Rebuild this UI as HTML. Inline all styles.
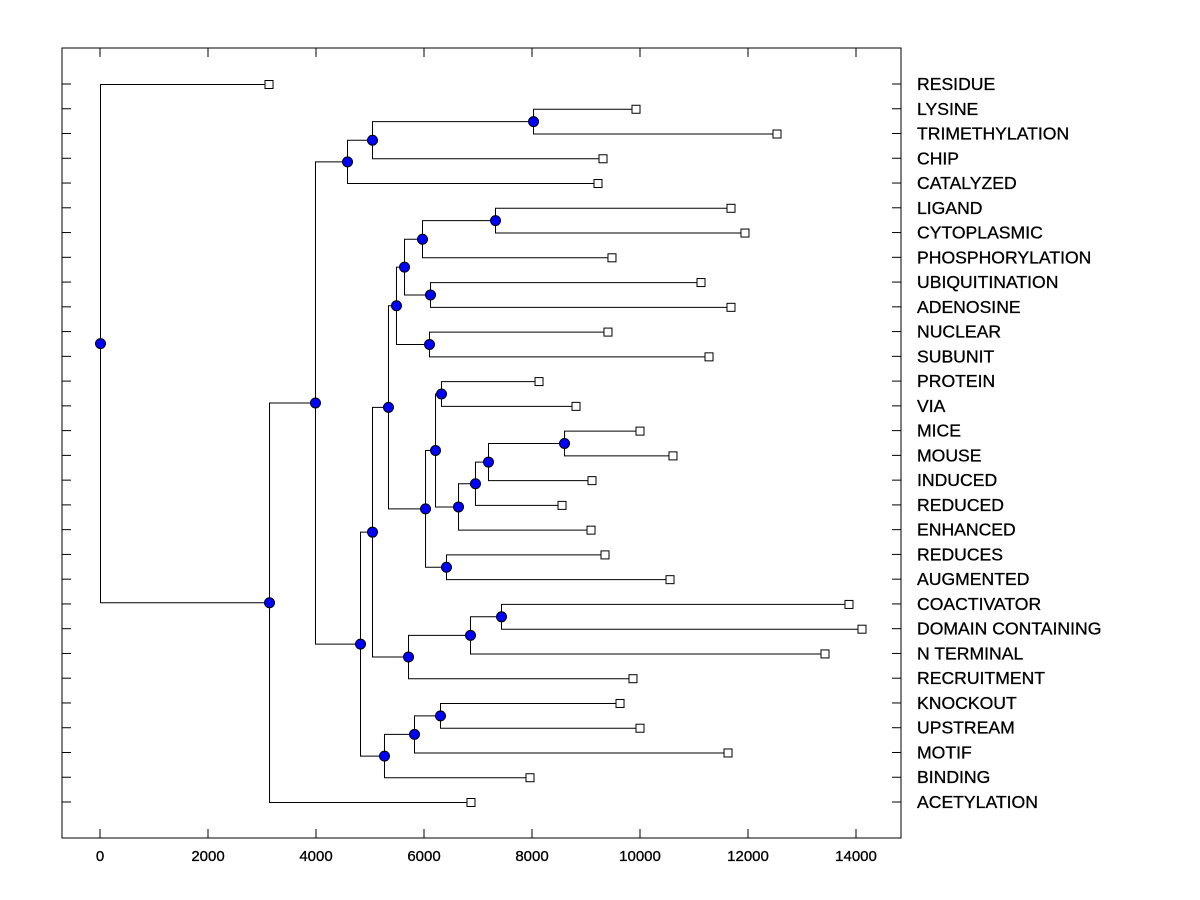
<!DOCTYPE html>
<html><head><meta charset="utf-8"><style>
html,body{margin:0;padding:0;background:#fff;}
svg{display:block;font-family:"Liberation Sans",Arial,sans-serif;}
</style></head><body>
<svg id="chart" width="1200" height="900">
<rect x="62" y="48" width="839" height="790" fill="none" stroke="#000" stroke-width="1"/>
<g id="axis"></g><g id="links"></g><g id="nodes"></g><g id="labels"></g>
</svg>
<script>
const leafLabels = ["RESIDUE","LYSINE","TRIMETHYLATION","CHIP","CATALYZED","LIGAND","CYTOPLASMIC","PHOSPHORYLATION","UBIQUITINATION","ADENOSINE","NUCLEAR","SUBUNIT","PROTEIN","VIA","MICE","MOUSE","INDUCED","REDUCED","ENHANCED","REDUCES","AUGMENTED","COACTIVATOR","DOMAIN CONTAINING","N TERMINAL","RECRUITMENT","KNOCKOUT","UPSTREAM","MOTIF","BINDING","ACETYLATION"];
const leafValues = [3130,9926,12537,9315,9222,11685,11944,9481,11130,11685,9407,11278,8130,8815,10000,10611,9111,8556,9093,9352,10556,13870,14111,13426,9870,9630,10000,11630,7963,6870];
const mergeA = [1,30,31,5,33,8,34,10,36,12,14,40,41,42,39,19,44,38,21,48,49,47,25,52,53,51,32,56,0];
const mergeB = [2,3,4,6,7,9,35,11,37,13,15,16,17,18,43,20,45,46,22,23,24,50,26,27,28,54,55,29,57];
const mergeHeights = [8019,5037,4574,7315,5963,6111,5630,6093,5481,6315,8593,7185,6944,6630,6204,6407,6019,5333,7426,6852,5704,5037,6296,5815,5259,4815,3981,3130,0];
const xTicks = [0,2000,4000,6000,8000,10000,12000,14000];

const NS="http://www.w3.org/2000/svg";
const xs = v => 100 + v*0.054;
const y0 = 84, dy = (802-84)/29;
function mk(tag, attrs, parent){const e=document.createElementNS(NS,tag);for(const k in attrs)e.setAttribute(k,attrs[k]);document.getElementById(parent).appendChild(e);return e;}

xTicks.forEach(t=>{
  const x=xs(t);
  const tk=mk('line',{x1:x,x2:x,y1:838,y2:829,stroke:'#000'},'axis');
  
  
  const tt=mk('line',{x1:x,x2:x,y1:48,y2:57,stroke:'#000'},'axis');
  
  
  const lb=mk('text',{x:x,y:861,'text-anchor':'middle','font-size':'15',stroke:'#000','stroke-width':'0.3'},'axis');
  lb.textContent=t;
  
  
});
leafLabels.forEach((n,i)=>{
  const y=y0+i*dy;
  const a=mk('line',{x1:62,x2:71,y1:y,y2:y,stroke:'#000'},'axis');
  
  
  const b=mk('line',{x1:892,x2:901,y1:y,y2:y,stroke:'#000'},'axis');
  
  
  const t=mk('text',{x:917,y:y+6,'font-size':'17.6',stroke:'#000','stroke-width':'0.3'},'labels');
  t.textContent=n;
  
  
});

const nx=[], ny=[];
leafValues.forEach((v,i)=>{nx.push(xs(v));ny.push(y0+i*dy);});
mergeHeights.forEach((h,k)=>{
  const a=mergeA[k], b=mergeB[k], x=xs(h);
  const p=mk('path',{d:`M${nx[a]},${ny[a]+.5}H${x+.5}V${ny[b]+.5}H${nx[b]}`,fill:'none',stroke:'#000','stroke-width':1},'links');
  
  
  nx.push(x); ny.push((ny[a]+ny[b])/2);
});
leafValues.forEach((v,i)=>{
  const r=mk('rect',{x:nx[i]-4,y:ny[i]-3.5,width:8,height:8,fill:'#fff',stroke:'#000'},'nodes');
  
  
});
mergeHeights.forEach((h,k)=>{
  const i=30+k;
  const c=mk('circle',{cx:nx[i]+.5,cy:ny[i]+.5,r:5,fill:'#0000ff',stroke:'#000'},'nodes');
  
  
});
</script>
</body></html>
